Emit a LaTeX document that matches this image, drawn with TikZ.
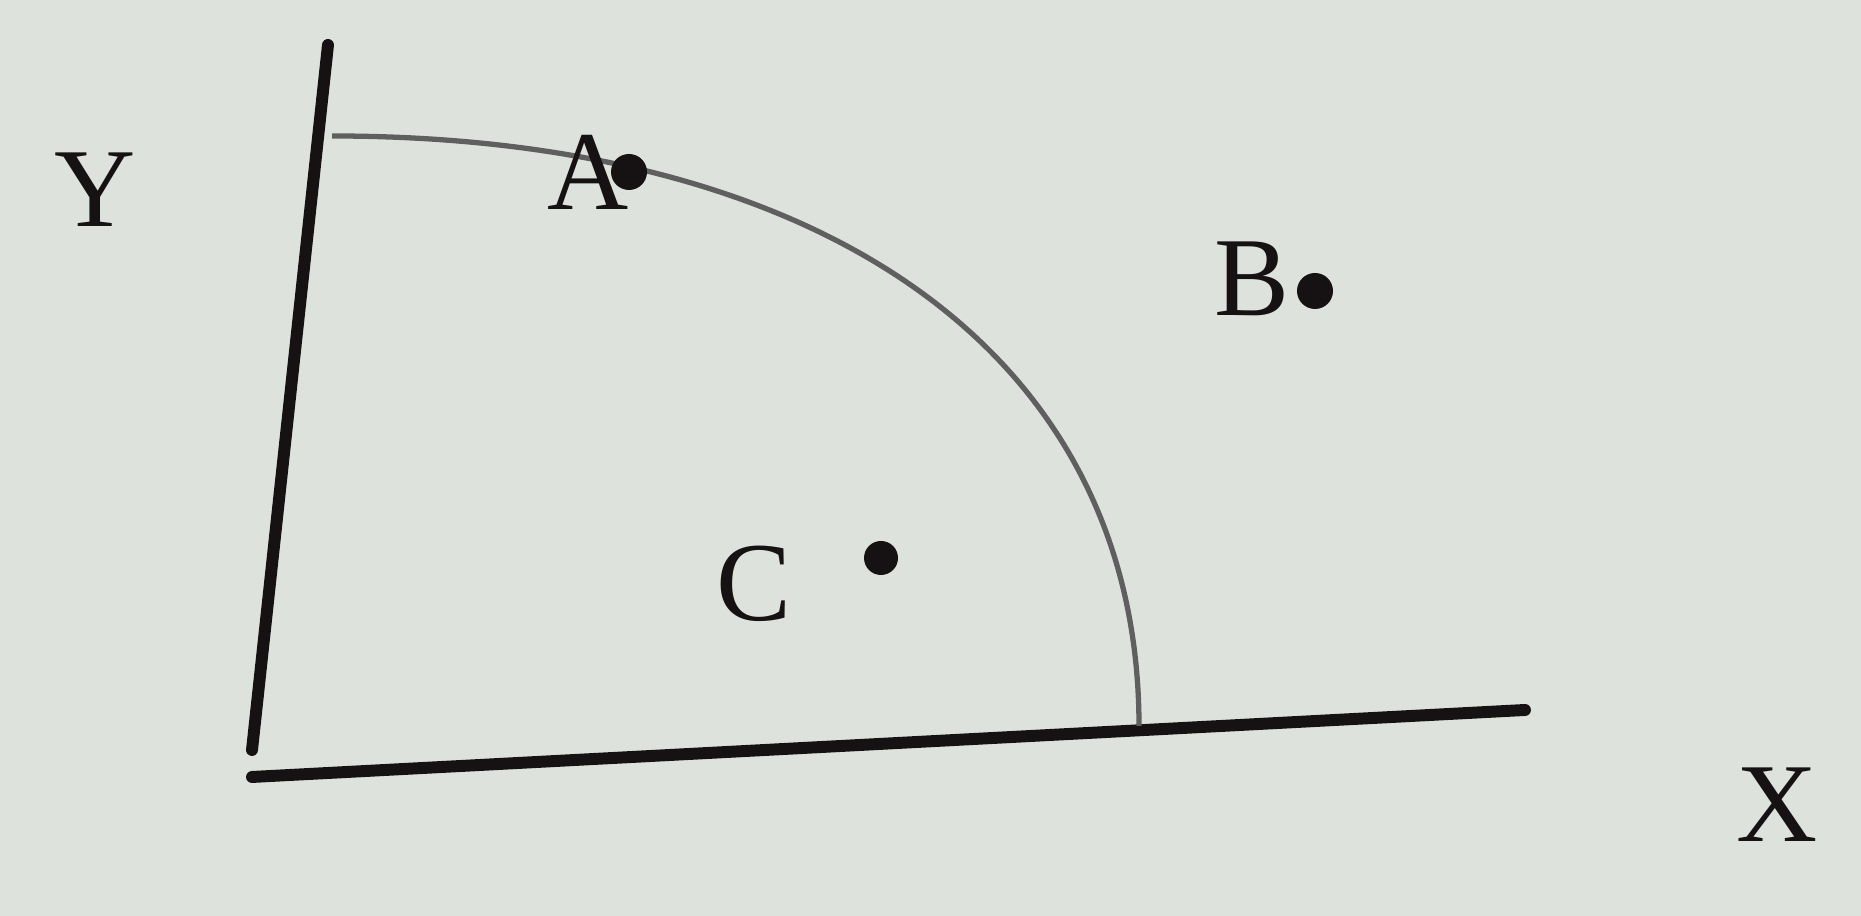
\documentclass[tikz,border=0pt]{standalone}
\usepackage{fontspec}
\setmainfont{Liberation Serif}
\usetikzlibrary{positioning}
\definecolor{paper}{RGB}{222,226,221}
\definecolor{ink}{RGB}{22,18,20}
\definecolor{pencil}{RGB}{95,95,95}
\tikzset{
  axis/.style={ink,line width=3.4pt,line cap=round},
  dot/.style={circle,fill=ink,inner sep=0pt,minimum size=0.36cm},
  letter/.style={ink,font=\fontsize{32}{38}\selectfont,inner sep=0pt}
}
\begin{document}
\begin{tikzpicture}[x=1cm,y=1cm]
    \fill[paper] (0,0) rectangle (18.61,9.16);
    \useasboundingbox (0,0) rectangle (18.61,9.16);

    % axes
    \coordinate (ytop) at (3.28,8.71);
    \coordinate (ybot) at (2.52,1.66);
    \coordinate (xleft) at (2.52,1.39);
    \coordinate (xright) at (15.25,2.06);
    \draw[axis] (ybot) -- (ytop);
    \draw[axis] (xleft) -- (xright);

    % quarter arc
    \coordinate (arcstart) at (3.32,7.80);
    \coordinate (arcend) at (11.39,1.90);
    \draw[pencil,line width=1.5pt] (arcstart)
        .. controls (8.32,7.80) and (11.39,5.56) .. (arcend);

    % points
    \node[dot] (pA) at (6.29,7.44) {};
    \node[dot] (pB) at (13.15,6.25) {};
    \node[dot,minimum size=0.34cm] (pC) at (8.81,3.58) {};

    \node[letter] (lA) at (5.88,7.44) {A};
    \node[letter] (lB) at (12.52,6.37) {B};
    \node[letter] (lC) at (7.54,3.32) {C};
    \node[letter] (lY) at (0.95,7.26) {Y};
    \node[letter] (lX) at (17.77,1.11) {X};
  \end{tikzpicture}
\end{document}
